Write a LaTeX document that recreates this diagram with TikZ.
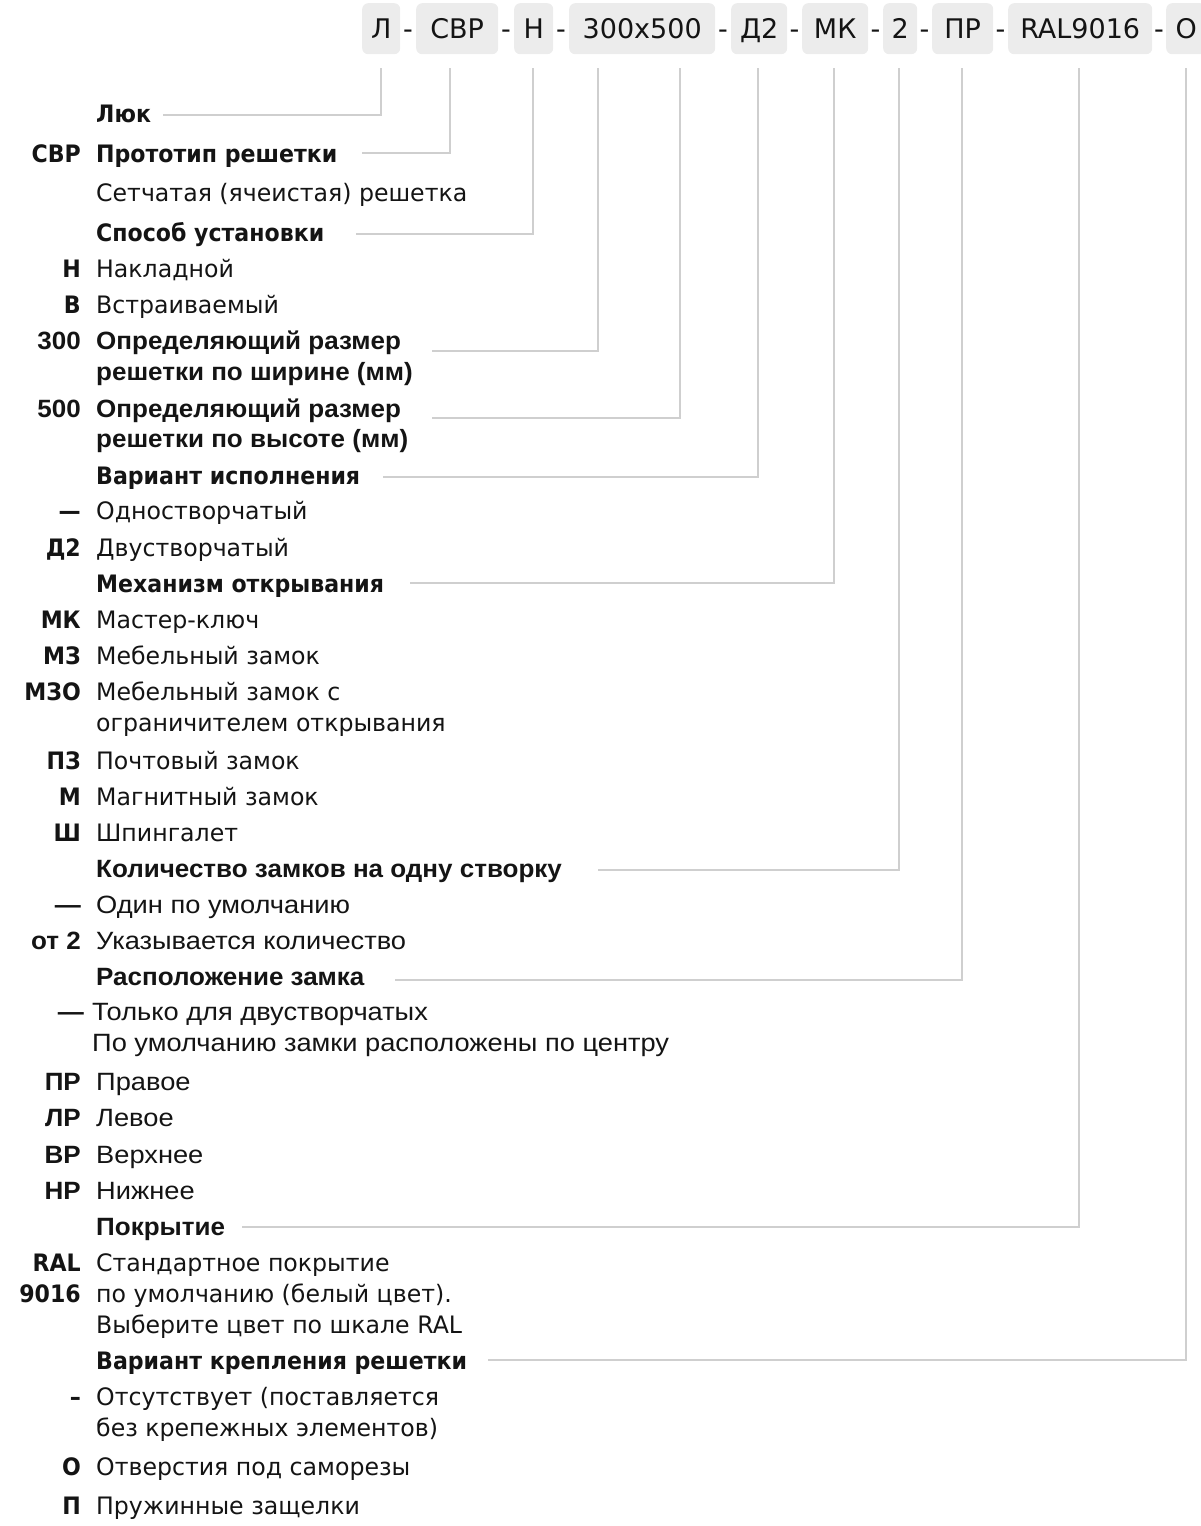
\documentclass[tikz,border=0pt]{standalone}
\usepackage{fontspec}
\setmainfont{DejaVu Sans}
\newfontfamily\fN{DejaVu Sans}[FakeStretch=0.985, BoldFeatures={FakeStretch=0.92}]
\newfontfamily\fT{DejaVu Sans}
\newfontfamily\fA{Liberation Sans}[FakeStretch=1.09, BoldFeatures={FakeStretch=1.04}]
\definecolor{boxgray}{HTML}{ECECEC}
\definecolor{linegray}{HTML}{CFCFCF}
\definecolor{ink}{HTML}{141414}
\tikzset{
  codebox/.style={fill=boxgray, rounded corners=6pt, minimum height=51pt, inner sep=0pt, text height=19.5pt, text depth=0pt, anchor=north west, text=ink, font=\fT\fontsize{27}{30}\selectfont},
  sepdash/.style={anchor=base, inner sep=0pt, text=ink, font=\fT\fontsize{27}{30}\selectfont},
  codeN/.style={anchor=base east, inner sep=0pt, text=ink, font=\fN\bfseries\fontsize{24}{28}\selectfont},
  codeA/.style={anchor=base east, inner sep=0pt, text=ink, font=\fA\bfseries\fontsize{25}{28}\selectfont},
  descN/.style={anchor=base west, inner sep=0pt, text=ink, font=\fN\fontsize{24}{28}\selectfont},
  descA/.style={anchor=base west, inner sep=0pt, text=ink, font=\fA\fontsize{25}{28}\selectfont},
  headN/.style={anchor=base west, inner sep=0pt, text=ink, font=\fN\bfseries\fontsize{24}{28}\selectfont},
  headA/.style={anchor=base west, inner sep=0pt, text=ink, font=\fA\bfseries\fontsize{25}{28}\selectfont},
  conn/.style={draw=linegray, line width=1.5pt}
}
\begin{document}
\begin{tikzpicture}[x=1pt,y=-1pt]
\useasboundingbox (0,0) rectangle (1200,1526);
% top code bar
\node[codebox, minimum width=38pt]  (bL)   at (362,3)  {Л};
\node[codebox, minimum width=82pt]  (bSVR) at (416,3)  {СВР};
\node[codebox, minimum width=39pt]  (bN)   at (514,3)  {Н};
\node[codebox, minimum width=146pt] (bSz)  at (569,3)  {300x500};
\node[codebox, minimum width=56pt]  (bD)   at (731,3)  {Д2};
\node[codebox, minimum width=66pt]  (bMK)  at (802,3)  {МК};
\node[codebox, minimum width=34pt]  (b2)   at (883,3)  {2};
\node[codebox, minimum width=61pt]  (bPR)  at (932,3)  {ПР};
\node[codebox, minimum width=144pt] (bRAL) at (1008,3) {RAL9016};
\node[codebox, minimum width=40pt]  (bO)   at (1166,3) {О};
\node[sepdash] (s1) at (408,38.5) {-};
\node[sepdash] (s2) at (506,38.5) {-};
\node[sepdash] (s3) at (561,38.5) {-};
\node[sepdash] (s4) at (723,38.5) {-};
\node[sepdash] (s5) at (794.5,38.5) {-};
\node[sepdash] (s6) at (875.5,38.5) {-};
\node[sepdash] (s7) at (924.5,38.5) {-};
\node[sepdash] (s8) at (1000.5,38.5) {-};
\node[sepdash] (s9) at (1159,38.5) {-};
% line tops
\coordinate (vL)   at (381,68);
\coordinate (vSVR) at (450,68);
\coordinate (vN)   at (533,68);
\coordinate (v300) at (598,68);
\coordinate (v500) at (680,68);
\coordinate (vD)   at (758,68);
\coordinate (vMK)  at (834,68);
\coordinate (v2)   at (899,68);
\coordinate (vPR)  at (962,68);
\coordinate (vRAL) at (1079,68);
\coordinate (vO)   at (1186,68);
% line starts
\coordinate (hL)   at (163,115);
\coordinate (hSVR) at (362,153);
\coordinate (hN)   at (356,234);
\coordinate (h300) at (432,351);
\coordinate (h500) at (432,418);
\coordinate (hD)   at (383,477);
\coordinate (hMK)  at (410,583);
\coordinate (h2)   at (598,870);
\coordinate (hPR)  at (395,980);
\coordinate (hRAL) at (242,1227);
\coordinate (hO)   at (488,1360);
% rows
\node[headN] (t1) at (96,122) {Люк};
\node[codeN] (c2) at (81,162) {СВР};
\node[headN] (t2) at (96,162) {Прототип решетки};
\node[descN] (d2) at (96,201) {Сетчатая (ячеистая) решетка};
\node[headN] (t3) at (96,241) {Способ установки};
\node[codeN] (c3a) at (81,277) {Н};
\node[descN] (d3a) at (96,277) {Накладной};
\node[codeN] (c3b) at (81,313) {В};
\node[descN] (d3b) at (96,313) {Встраиваемый};
\node[codeA] (c4) at (81,349) {300};
\node[headA] (t4) at (96,349) {Определяющий размер};
\node[headA] (t4b) at (96,380) {решетки по ширине (мм)};
\node[codeA] (c5) at (81,417) {500};
\node[headA] (t5) at (96,417) {Определяющий размер};
\node[headA] (t5b) at (96,447) {решетки по высоте (мм)};
\node[headN] (t6) at (96,484) {Вариант исполнения};
\node[codeN] (c6a) at (81,519) {—};
\node[descN] (d6a) at (96,519) {Одностворчатый};
\node[codeN] (c6b) at (81,556) {Д2};
\node[descN] (d6b) at (96,556) {Двустворчатый};
\node[headN] (t7) at (96,592) {Механизм открывания};
\node[codeN] (c7a) at (81,628) {МК};
\node[descN] (d7a) at (96,628) {Мастер-ключ};
\node[codeN] (c7b) at (81,664) {МЗ};
\node[descN] (d7b) at (96,664) {Мебельный замок};
\node[codeN] (c7c) at (81,700) {МЗО};
\node[descN] (d7c) at (96,700) {Мебельный замок с};
\node[descN] (d7c2) at (96,731) {ограничителем открывания};
\node[codeN] (c7d) at (81,769) {ПЗ};
\node[descN] (d7d) at (96,769) {Почтовый замок};
\node[codeN] (c7e) at (81,805) {М};
\node[descN] (d7e) at (96,805) {Магнитный замок};
\node[codeN] (c7f) at (81,841) {Ш};
\node[descN] (d7f) at (96,841) {Шпингалет};
\node[headA] (t8) at (96,877) {Количество замков на одну створку};
\node[codeA] (c8a) at (81,913) {—};
\node[descA] (d8a) at (96,913) {Один по умолчанию};
\node[codeA] (c8b) at (81,949) {от 2};
\node[descA] (d8b) at (96,949) {Указывается количество};
\node[headA] (t9) at (96,985) {Расположение замка};
\node[codeA] (c9a) at (84,1020) {—};
\node[descA] (d9a) at (92,1020) {Только для двустворчатых};
\node[descA] (d9a2) at (92,1051) {По умолчанию замки расположены по центру};
\node[codeA] (c9b) at (81,1090) {ПР};
\node[descA] (d9b) at (96,1090) {Правое};
\node[codeA] (c9c) at (81,1126) {ЛР};
\node[descA] (d9c) at (96,1126) {Левое};
\node[codeA] (c9d) at (81,1163) {ВР};
\node[descA] (d9d) at (96,1163) {Верхнее};
\node[codeA] (c9e) at (81,1199) {НР};
\node[descA] (d9e) at (96,1199) {Нижнее};
\node[headA] (t10) at (96,1235) {Покрытие};
\node[codeN] (c10) at (81,1271) {RAL};
\node[codeN] (c10b) at (81,1302) {9016};
\node[descN] (d10) at (96,1271) {Стандартное покрытие};
\node[descN] (d10b) at (96,1302) {по умолчанию (белый цвет).};
\node[descN] (d10c) at (96,1333) {Выберите цвет по шкале RAL};
\node[headN] (t11) at (96,1369) {Вариант крепления решетки};
\node[codeN] (c11a) at (81,1405) {–};
\node[descN] (d11a) at (96,1405) {Отсутствует (поставляется};
\node[descN] (d11a2) at (96,1436) {без крепежных элементов)};
\node[codeN] (c11b) at (81,1475) {О};
\node[descN] (d11b) at (96,1475) {Отверстия под саморезы};
\node[codeN] (c11c) at (81,1514) {П};
\node[descN] (d11c) at (96,1514) {Пружинные защелки};
% connectors
\draw[conn] (hL) -| (vL);
\draw[conn] (hSVR) -| (vSVR);
\draw[conn] (hN) -| (vN);
\draw[conn] (h300) -| (v300);
\draw[conn] (h500) -| (v500);
\draw[conn] (hD) -| (vD);
\draw[conn] (hMK) -| (vMK);
\draw[conn] (h2) -| (v2);
\draw[conn] (hPR) -| (vPR);
\draw[conn] (hRAL) -| (vRAL);
\draw[conn] (hO) -| (vO);
\end{tikzpicture}
\end{document}
